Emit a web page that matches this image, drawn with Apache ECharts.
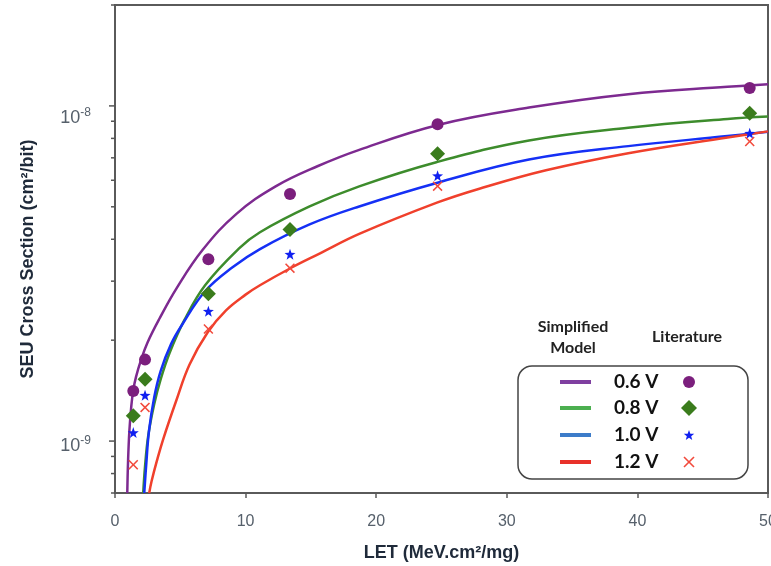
<!DOCTYPE html>
<html>
<head>
<meta charset="utf-8">
<script src="https://cdn.jsdelivr.net/npm/echarts@6/dist/echarts.min.js"></script>
<style>
  html, body { margin: 0; padding: 0; background: #fff; }
  #main { width: 771px; height: 566px; }
</style>
</head>
<body>
<div id="main"></div>
<script>
// 数据
const seriesNames = ['0.6 V', '0.8 V', '1.0 V', '1.2 V'];

// Literature points, LET (MeV.cm2/mg)
const letPoints = [1.4, 2.3, 7.15, 13.4, 24.7, 48.6];
const lit06 = [1.41e-9, 1.75e-9, 3.49e-9, 5.46e-9, 8.82e-9, 1.13e-8];
const lit08 = [1.19e-9, 1.53e-9, 2.75e-9, 4.28e-9, 7.2e-9, 9.5e-9];
const lit10 = [1.06e-9, 1.37e-9, 2.44e-9, 3.61e-9, 6.19e-9, 8.29e-9];
const lit12 = [8.5e-10, 1.26e-9, 2.16e-9, 3.28e-9, 5.76e-9, 7.83e-9];

// Simplified model curves
const model06X = [0.94, 1.0, 1.1, 1.25, 1.4, 1.6, 2.0, 2.5, 3.4, 4.7, 6.7, 9.3, 12.3, 15.5, 18.7, 24.8, 31.7, 39.3, 46.9, 50];
const model06Y = [7.0e-10, 8.71e-10, 1.072e-9, 1.274e-9, 1.419e-9, 1.549e-9, 1.75e-9, 1.972e-9, 2.317e-9, 2.851e-9, 3.715e-9, 4.764e-9, 5.754e-9, 6.607e-9, 7.396e-9, 8.79e-9, 9.886e-9, 1.084e-8, 1.14e-8, 1.161e-8];
const model08X = [2.16, 2.3, 2.54, 3.0, 3.5, 4.2, 5.3, 6.9, 9.5, 11.1, 14.9, 18.7, 24.6, 31.7, 39.3, 46.9, 50];
const model08Y = [7.0e-10, 8.41e-10, 1.035e-9, 1.288e-9, 1.531e-9, 1.841e-9, 2.291e-9, 2.917e-9, 3.758e-9, 4.198e-9, 5.012e-9, 5.754e-9, 6.792e-9, 7.889e-9, 8.61e-9, 9.141e-9, 9.29e-9];
const model10X = [2.24, 2.4, 2.6, 3.0, 3.5, 4.3, 5.1, 6.9, 9.0, 11.1, 14.9, 18.7, 24.7, 31.7, 39.3, 46.9, 50];
const model10Y = [7.0e-10, 8.6e-10, 1.07e-9, 1.35e-9, 1.62e-9, 1.95e-9, 2.213e-9, 2.8e-9, 3.3e-9, 3.74e-9, 4.43e-9, 5.012e-9, 5.9e-9, 6.918e-9, 7.586e-9, 8.128e-9, 8.375e-9];
const model12X = [2.62, 2.8, 3.2, 3.7, 4.7, 5.7, 7.1, 8.5, 10.0, 11.1, 13.5, 15.7, 18.7, 24.7, 27.9, 33.0, 39.3, 46.9, 50];
const model12Y = [7.0e-10, 7.586e-10, 8.71e-10, 1.016e-9, 1.324e-9, 1.69e-9, 2.113e-9, 2.455e-9, 2.735e-9, 2.917e-9, 3.289e-9, 3.631e-9, 4.15e-9, 5.152e-9, 5.662e-9, 6.427e-9, 7.228e-9, 8.054e-9, 8.395e-9];

// axis ticks
const xTicks = [0, 10, 20, 30, 40, 50];
const yTicks = [7e-10, 8e-10, 9e-10, 1e-9, 2e-9, 3e-9, 4e-9, 5e-9, 6e-9, 7e-9, 8e-9, 9e-9, 1e-8, 2e-8];

// 颜色
const lineColors = ['#7d2a90', '#3d8c2c', '#1530f5', '#f0402c'];
const markColors = ['#7b1f7d', '#3a7c1c', '#1020f0', '#f24a3c'];
const legendLineColors = ['#7f3fa0', '#4caf50', '#3d7cc9', '#e8312a'];

const starPath = 'path://M0,-10L2.35,-3.24L9.51,-3.09L3.8,1.24L5.88,8.09L0,4L-5.88,8.09L-3.8,1.24L-9.51,-3.09L-2.35,-3.24Z';
const crossPath = 'path://M0,1.1L1.1,0L5,3.9L8.9,0L10,1.1L6.1,5L10,8.9L8.9,10L5,6.1L1.1,10L0,8.9L3.9,5Z';
const symbols = ['circle', 'diamond', starPath, crossPath];
const symbolSizes = [12, 15, 11, 10];

function isPow10(v) {
  const e = Math.log10(v);
  return Math.abs(e - Math.round(e)) < 1e-6;
}
function zip(xs, ys) {
  return xs.map((x, i) => [x, ys[i]]);
}

const chart = echarts.init(document.getElementById('main'));

const modelX = [model06X, model08X, model10X, model12X];
const modelY = [model06Y, model08Y, model10Y, model12Y];
const litY = [lit06, lit08, lit10, lit12];

let series = [];
for (let i = 0; i < 4; i++) {
  series.push({
    name: seriesNames[i] + ' model',
    type: 'line',
    data: zip(modelX[i], modelY[i]),
    showSymbol: false,
    smooth: 0.4,
    clip: true,
    lineStyle: { color: lineColors[i], width: 2.5 },
    z: 2
  });
}
for (let i = 0; i < 4; i++) {
  series.push({
    name: seriesNames[i] + ' literature',
    type: 'scatter',
    data: zip(letPoints, litY[i]),
    symbol: symbols[i],
    symbolSize: symbolSizes[i],
    itemStyle: { color: markColors[i], opacity: 1 },
    z: 3
  });
}
// y 轴刻度（对数）
series.push({
  type: 'custom',
  silent: true,
  clip: false,
  data: yTicks.map(v => [0, v]),
  renderItem: function (params, api) {
    const v = api.value(1);
    const p = api.coord([0, v]);
    const len = isPow10(v) ? 6 : 4;
    return {
      type: 'line',
      shape: { x1: p[0] - len, y1: p[1], x2: p[0], y2: p[1] },
      style: { stroke: '#555', lineWidth: 1.5 }
    };
  },
  z: 5
});

// legend drawn as graphic
const legendFont = 'Lato, "Open Sans", sans-serif';
let graphics = [
  {
    type: 'rect',
    shape: { x: 518, y: 366, width: 230, height: 113, r: 14 },
    style: { fill: '#fff', stroke: '#444', lineWidth: 1.5 },
    z: 10
  },
  {
    type: 'text', x: 573, y: 337, z: 11,
    style: { text: 'Simplified\nModel', font: 'bold 16px ' + legendFont, fill: '#222', align: 'center', verticalAlign: 'middle', lineHeight: 21 }
  },
  {
    type: 'text', x: 687, y: 337, z: 11,
    style: { text: 'Literature', font: 'bold 16px ' + legendFont, fill: '#222', align: 'center', verticalAlign: 'middle' }
  }
];
const rowY = [382, 408, 435, 462];
const mx = 689;
for (let i = 0; i < 4; i++) {
  const y = rowY[i];
  graphics.push({
    type: 'line', z: 11,
    shape: { x1: 560, y1: y, x2: 591, y2: y },
    style: { stroke: legendLineColors[i], lineWidth: 4 }
  });
  graphics.push({
    type: 'text', x: 614, y: y, z: 11,
    style: { text: seriesNames[i], font: 'bold 19px ' + legendFont, fill: '#111', align: 'left', verticalAlign: 'middle' }
  });
}
graphics.push({ type: 'circle', z: 11, shape: { cx: mx, cy: rowY[0], r: 6 }, style: { fill: markColors[0] } });
graphics.push({ type: 'polygon', z: 11, shape: { points: [[mx, rowY[1] - 8], [mx + 8, rowY[1]], [mx, rowY[1] + 8], [mx - 8, rowY[1]]] }, style: { fill: markColors[1] } });
let starPts = [];
for (let k = 0; k < 10; k++) {
  const a = -Math.PI / 2 + k * Math.PI / 5;
  const r = k % 2 === 0 ? 5.5 : 2.3;
  starPts.push([mx + r * Math.cos(a), rowY[2] + 0.5 + r * Math.sin(a)]);
}
graphics.push({ type: 'polygon', z: 11, shape: { points: starPts }, style: { fill: markColors[2] } });
graphics.push({ type: 'line', z: 11, shape: { x1: mx - 5, y1: rowY[3] - 5, x2: mx + 5, y2: rowY[3] + 5 }, style: { stroke: markColors[3], lineWidth: 1.6 } });
graphics.push({ type: 'line', z: 11, shape: { x1: mx + 5, y1: rowY[3] - 5, x2: mx - 5, y2: rowY[3] + 5 }, style: { stroke: markColors[3], lineWidth: 1.6 } });

const axisFont = '"Liberation Sans", Arial, sans-serif';
const labelColor = '#56606b';
// 10^-8 label sits a bit lower than its tick in the original
const yLabelShift = { '-8': 24, '-9': 10 };

const option = {
  animation: false,
  backgroundColor: '#fff',
  grid: {
    left: 115, right: 3, top: 5, bottom: 73,
    outerBoundsMode: 'none',
    containLabel: false,
    show: true, borderColor: '#5a5a5a', borderWidth: 2
  },
  xAxis: {
    type: 'value',
    min: xTicks[0],
    max: xTicks[xTicks.length - 1],
    interval: 10,
    name: 'LET (MeV.cm²/mg)',
    nameLocation: 'middle',
    nameGap: 51,
    nameTextStyle: { fontFamily: axisFont, fontWeight: 'bold', fontSize: 18, color: '#1f2a3a' },
    axisLine: { onZero: false, lineStyle: { color: '#5a5a5a', width: 2 } },
    axisTick: { show: true, inside: false, length: 5, lineStyle: { color: '#5a5a5a', width: 1.5 } },
    axisLabel: { fontFamily: axisFont, fontSize: 16, color: labelColor, margin: 21, hideOverlap: false },
    splitLine: { show: false }
  },
  yAxis: {
    type: 'log',
    logBase: 10,
    min: yTicks[0],
    max: yTicks[yTicks.length - 1],
    name: 'SEU Cross Section (cm²/bit)',
    nameLocation: 'middle',
    nameGap: 78,
    nameTextStyle: { fontFamily: axisFont, fontWeight: 'bold', fontSize: 18, color: '#1f2a3a', padding: [0, 20, 0, 0] },
    axisLine: { onZero: false, lineStyle: { color: '#5a5a5a', width: 2 } },
    axisTick: { show: false },
    splitLine: { show: false },
    axisLabel: {
      margin: 24,
      formatter: function (v) {
        if (!isPow10(v)) return '';
        const e = String(Math.round(Math.log10(v)));
        const k = e === '-8' ? 'a' : 'b';
        return '{' + k + '1|10}{' + k + '2|' + e + '}';
      },
      rich: {
        a1: { fontFamily: axisFont, fontSize: 18, color: labelColor, padding: [yLabelShift['-8'], 0, 0, 0] },
        a2: { fontFamily: axisFont, fontSize: 12, color: labelColor, padding: [yLabelShift['-8'], 0, 10, 0] },
        b1: { fontFamily: axisFont, fontSize: 18, color: labelColor, padding: [yLabelShift['-9'], 0, 0, 0] },
        b2: { fontFamily: axisFont, fontSize: 12, color: labelColor, padding: [yLabelShift['-9'], 0, 10, 0] }
      }
    }
  },
  series: series,
  graphic: graphics
};
chart.setOption(option);
</script>
</body>
</html>
